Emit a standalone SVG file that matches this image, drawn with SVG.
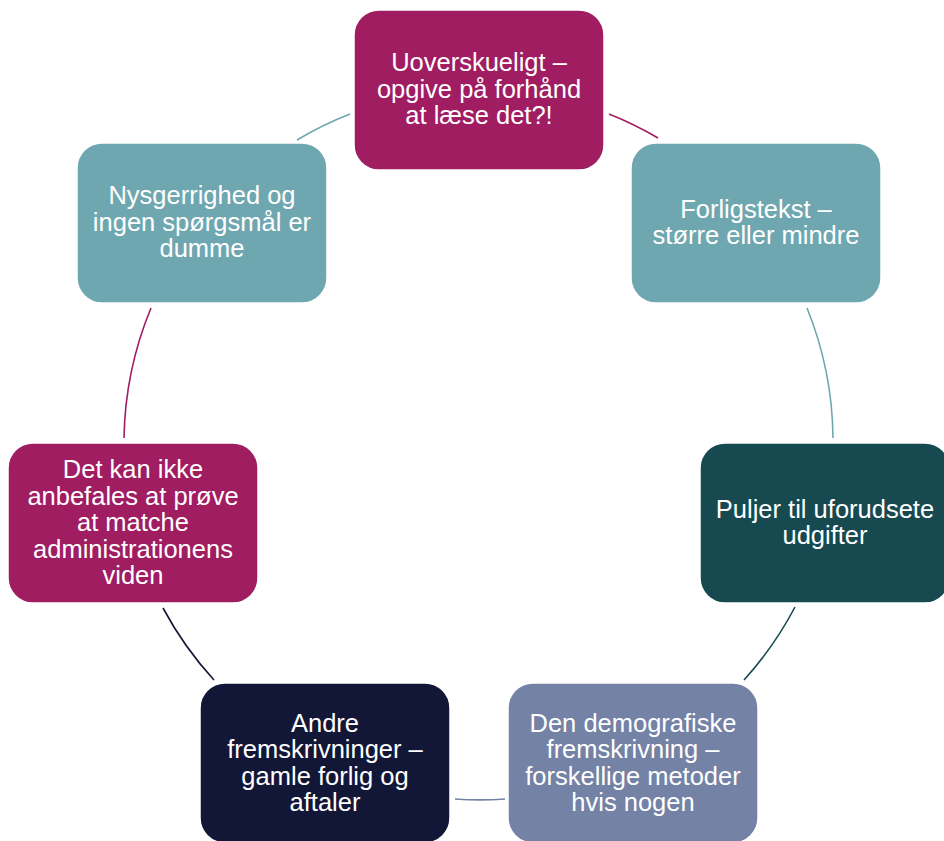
<svg xmlns="http://www.w3.org/2000/svg" width="944" height="841" viewBox="0 0 944 841">
<style>
.box{stroke:#ffffff;stroke-width:1.5}
.lbl{font-family:"Liberation Sans",Arial,sans-serif;font-size:25.5px;fill:#ffffff;text-anchor:middle}
.arc{fill:none;stroke-width:1.6}
.mag{fill:#A01D62}
.teal{fill:#6FA7B0}
.dteal{fill:#174A50}
.slate{fill:#7382A5}
.navy{fill:#131737}
</style>
<rect width="944" height="841" fill="#ffffff"/>
<g id="connectors">
<path class="arc" stroke="#A01D62" d="M609,114 A355,355 0 0 1 658,138"/>
<path class="arc" stroke="#6FA7B0" d="M807,308 A355,355 0 0 1 833,438"/>
<path class="arc" stroke="#174A50" d="M795,607 A355,355 0 0 1 744,680"/>
<path class="arc" stroke="#7382A5" d="M505,799 A355,355 0 0 1 455,799"/>
<path class="arc" stroke="#131737" d="M214,680 A355,355 0 0 1 163,608"/>
<path class="arc" stroke="#A01D62" d="M124,438 A355,355 0 0 1 151,308"/>
<path class="arc" stroke="#6FA7B0" d="M297,140 A355,355 0 0 1 350,114"/>
</g>
<g id="node1">
<rect class="box mag" x="354" y="10" width="250" height="160" rx="25"/>
<text class="lbl"><tspan x="479" y="71">Uoverskueligt –</tspan><tspan x="479" y="97.5">opgive på forhånd</tspan><tspan x="479" y="124">at læse det?!</tspan></text>
</g>
<g id="node2">
<rect class="box teal" x="631" y="143" width="250" height="160" rx="25"/>
<text class="lbl"><tspan x="756" y="217.5">Forligstekst –</tspan><tspan x="756" y="244">større eller mindre</tspan></text>
</g>
<g id="node3">
<rect class="box dteal" x="700" y="443" width="250" height="160" rx="25"/>
<text class="lbl"><tspan x="825" y="517.5">Puljer til uforudsete</tspan><tspan x="825" y="544">udgifter</tspan></text>
</g>
<g id="node4">
<rect class="box slate" x="508" y="683" width="250" height="160" rx="25"/>
<text class="lbl"><tspan x="633" y="731.5">Den demografiske</tspan><tspan x="633" y="758">fremskrivning –</tspan><tspan x="633" y="784.5">forskellige metoder</tspan><tspan x="633" y="811">hvis nogen</tspan></text>
</g>
<g id="node5">
<rect class="box navy" x="200" y="683" width="250" height="160" rx="25"/>
<text class="lbl"><tspan x="325" y="731.5">Andre</tspan><tspan x="325" y="758">fremskrivninger –</tspan><tspan x="325" y="784.5">gamle forlig og</tspan><tspan x="325" y="811">aftaler</tspan></text>
</g>
<g id="node6">
<rect class="box mag" x="8" y="443" width="250" height="160" rx="25"/>
<text class="lbl"><tspan x="133" y="478">Det kan ikke</tspan><tspan x="133" y="504.5">anbefales at prøve</tspan><tspan x="133" y="531">at matche</tspan><tspan x="133" y="557.5">administrationens</tspan><tspan x="133" y="584">viden</tspan></text>
</g>
<g id="node7">
<rect class="box teal" x="77" y="143" width="250" height="160" rx="25"/>
<text class="lbl"><tspan x="202" y="204">Nysgerrighed og</tspan><tspan x="202" y="230.5">ingen spørgsmål er</tspan><tspan x="202" y="257">dumme</tspan></text>
</g>
</svg>
